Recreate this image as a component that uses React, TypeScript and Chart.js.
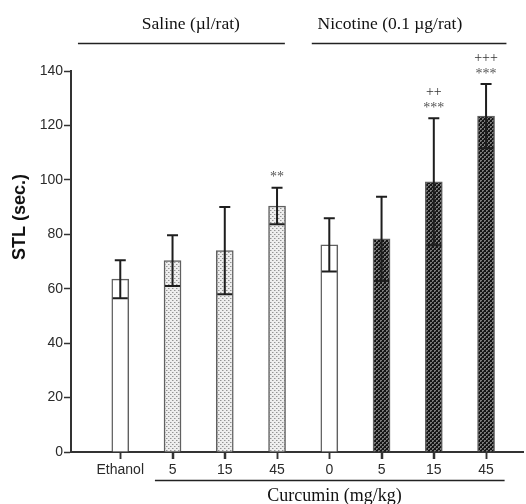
import { useEffect, useRef } from "react";
import { Chart, registerables } from "chart.js";

Chart.register(...registerables);

const categories = ["Ethanol", "5", "15", "45", "0", "5", "15", "45"];
const meanValues = [63.5, 70.3, 74.0, 90.4, 76.1, 78.3, 99.3, 123.4];
const semValues = [7.0, 9.3, 16.0, 6.7, 9.8, 15.5, 23.3, 11.8];
const fillKinds = ["open", "light", "light", "light", "open", "dark", "dark", "dark"];
const starLabels = ["", "", "", "**", "", "", "***", "***"];
const plusLabels = ["", "", "", "", "", "", "++", "+++"];

const groupLabels = ["Saline (\u00b5l/rat)", "Nicotine (0.1 \u00b5g/rat)"];
const groupLineStart = [0.19, 4.665];
const groupLineEnd = [4.15, 8.39];
const groupTextCenter = [2.35, 6.16];

const xAxisTitle = "Curcumin (mg/kg)";
const xTitleLineStart = 1.663;
const xTitleLineEnd = 8.355;
const xTitleCenter = 5.1;
const yAxisTitle = "STL (sec.)";

const yMin = 0;
const yMax = 140;
const yStep = 20;
const xMin = 0.057;
const xMax = 8.707;

function makePattern(kind: string): CanvasPattern | string {
  if (kind === "open") return "#ffffff";
  const c = document.createElement("canvas");
  c.width = 4;
  c.height = 4;
  const g = c.getContext("2d")!;
  if (kind === "light") {
    g.fillStyle = "#eeeeee";
    g.fillRect(0, 0, 4, 4);
    g.fillStyle = "#949494";
    g.fillRect(0, 0, 1, 1);
    g.fillRect(2, 2, 1, 1);
    g.fillStyle = "#c4c4c4";
    g.fillRect(1, 0, 1, 1);
    g.fillRect(3, 2, 1, 1);
  } else {
    g.fillStyle = "#141414";
    g.fillRect(0, 0, 4, 4);
    g.fillStyle = "#7a7a7a";
    g.fillRect(0, 0, 2, 2);
    g.fillRect(2, 2, 2, 2);
    g.fillStyle = "#2e2e2e";
    g.fillRect(1, 1, 1, 1);
    g.fillRect(3, 3, 1, 1);
  }
  const p = g.createPattern(c, "repeat");
  return p || "#888";
}

const decorPlugin = {
  id: "decor",
  afterDatasetsDraw(chart: any) {
    const ctx = chart.ctx;
    const xs = chart.scales.x;
    const ys = chart.scales.y;
    ctx.save();
    meanValues.forEach((m, i) => {
      const px = xs.getPixelForValue(i + 1);
      const top = ys.getPixelForValue(m + semValues[i]);
      const bot = ys.getPixelForValue(m - semValues[i]);
      ctx.strokeStyle = "#1e1e1e";
      ctx.lineWidth = 2;
      ctx.beginPath();
      ctx.moveTo(px, top);
      ctx.lineTo(px, bot);
      ctx.moveTo(px - 5.5, top);
      ctx.lineTo(px + 5.5, top);
      ctx.moveTo(px - 7.5, bot);
      ctx.lineTo(px + 7.5, bot);
      ctx.stroke();
      ctx.textAlign = "center";
      ctx.textBaseline = "middle";
      if (starLabels[i]) {
        ctx.fillStyle = "#555";
        ctx.font = "14px 'Liberation Serif', 'DejaVu Serif', serif";
        ctx.fillText(starLabels[i], px, top - 10);
      }
      if (plusLabels[i]) {
        ctx.fillStyle = "#333";
        ctx.font = "14px 'Liberation Serif', 'DejaVu Serif', serif";
        ctx.fillText(plusLabels[i], px, top - 26);
      }
    });
    ctx.restore();
  },
  afterDraw(chart: any) {
    const ctx = chart.ctx;
    const xs = chart.scales.x;
    ctx.save();
    // x tick marks
    ctx.strokeStyle = "#333";
    ctx.lineWidth = 1.5;
    ctx.beginPath();
    categories.forEach((_, i) => {
      const px = Math.round(xs.getPixelForValue(i + 1)) + 0.5;
      ctx.moveTo(px, xs.top);
      ctx.lineTo(px, xs.top + 7);
    });
    ctx.stroke();

    ctx.strokeStyle = "#222";
    ctx.lineWidth = 1.5;
    ctx.fillStyle = "#111";
    ctx.textAlign = "center";
    ctx.textBaseline = "middle";
    ctx.font = "17.5px 'Liberation Serif', 'DejaVu Serif', serif";
    groupLabels.forEach((lab, i) => {
      const a = xs.getPixelForValue(groupLineStart[i]);
      const b = xs.getPixelForValue(groupLineEnd[i]);
      ctx.beginPath();
      ctx.moveTo(a, 43.5);
      ctx.lineTo(b, 43.5);
      ctx.stroke();
      ctx.fillText(lab, xs.getPixelForValue(groupTextCenter[i]), 24);
    });
    const a = xs.getPixelForValue(xTitleLineStart);
    const b = xs.getPixelForValue(xTitleLineEnd);
    ctx.beginPath();
    ctx.moveTo(a, 480.5);
    ctx.lineTo(b, 480.5);
    ctx.stroke();
    ctx.font = "18px 'Liberation Serif', 'DejaVu Serif', serif";
    ctx.fillText(xAxisTitle, xs.getPixelForValue(xTitleCenter), 496);
    ctx.save();
    ctx.translate(20, 217);
    ctx.rotate(-Math.PI / 2);
    ctx.font = "bold 18px 'Liberation Sans', Arial, sans-serif";
    ctx.fillStyle = "#111";
    ctx.fillText(yAxisTitle, 0, 0);
    ctx.restore();
    ctx.restore();
  },
};

export default function App() {
  const ref = useRef<HTMLCanvasElement>(null);
  useEffect(() => {
    if (!ref.current) return;
    const bg = fillKinds.map((k) => makePattern(k));
    const chart = new Chart(ref.current, {
      type: "bar",
      data: {
        datasets: [
          {
            data: meanValues.map((v, i) => ({ x: i + 1, y: v })),
            backgroundColor: bg as any,
            borderColor: "#606060",
            borderWidth: 1.5,
            barThickness: 17,
          },
        ],
      },
      options: {
        animation: false,
        responsive: true,
        maintainAspectRatio: false,
        layout: { padding: { top: 71, right: 3, left: 0, bottom: 0 } },
        plugins: { legend: { display: false }, tooltip: { enabled: false } },
        scales: {
          x: {
            type: "linear",
            min: xMin,
            max: xMax,
            offset: false,
            afterBuildTicks: (s: any) => {
              s.ticks = categories.map((_, i) => ({ value: i + 1 }));
            },
            afterFit: (s: any) => {
              s.height = 52;
            },
            ticks: {
              callback: (v: any) => categories[Math.round(Number(v)) - 1] ?? "",
              font: { family: "'Liberation Sans', Arial, sans-serif", size: 14 },
              color: "#2a2a2a",
              padding: 3,
              maxRotation: 0,
              autoSkip: false,
            },
            grid: {
              display: true,
              offset: false,
              drawOnChartArea: false,
              drawTicks: true,
              tickLength: 7,
              tickColor: "#333",
              tickWidth: 1.5,
            },
            border: { display: true, color: "#333", width: 2 },
          },
          y: {
            min: yMin,
            max: yMax,
            afterFit: (s: any) => {
              s.width = 71;
            },
            ticks: {
              stepSize: yStep,
              font: { family: "'Liberation Sans', Arial, sans-serif", size: 14 },
              color: "#2a2a2a",
              padding: 1,
            },
            grid: {
              display: true,
              drawOnChartArea: false,
              drawTicks: true,
              tickLength: 7,
              tickColor: "#333",
              tickWidth: 1.5,
            },
            border: { display: true, color: "#333", width: 2 },
          },
        },
      },
      plugins: [decorPlugin],
    });
    return () => chart.destroy();
  }, []);
  return (
    <div style={{ position: "absolute", left: 0, top: 0, width: 526, height: 504, background: "#fff" }}>
      <canvas ref={ref} />
    </div>
  );
}
